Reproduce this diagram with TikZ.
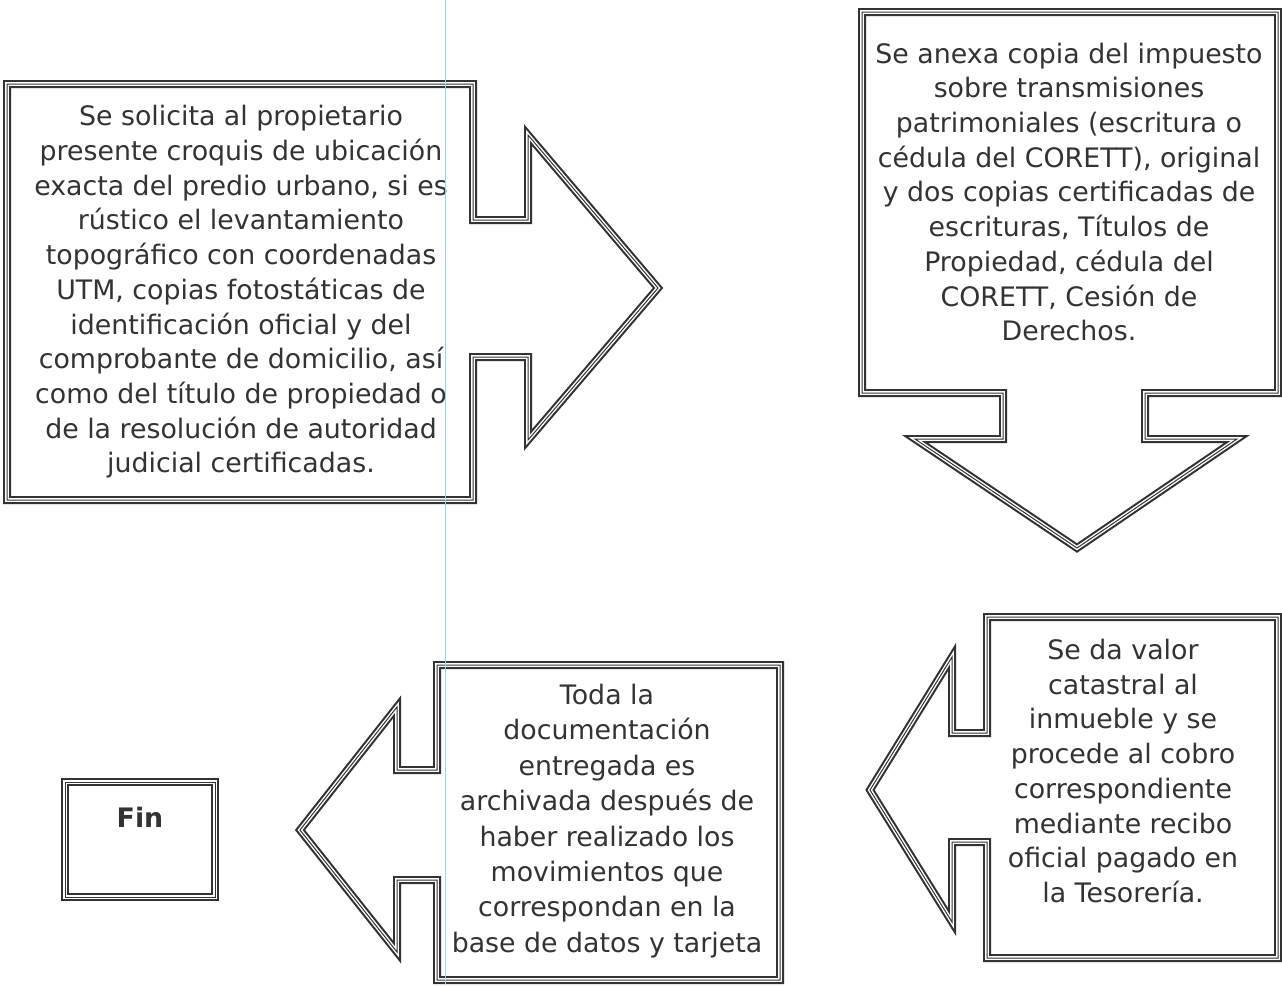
\documentclass[tikz,border=0pt]{standalone}
\usepackage{fontspec}
\setmainfont{DejaVu Sans}
\definecolor{ink}{HTML}{333333}
\definecolor{guide}{RGB}{150,215,228}
\newcommand\tripath[1]{%
  \draw[frameA] #1;
  \draw[frameB] #1;
  \draw[frameC] #1;}
\begin{document}
\begin{tikzpicture}[x=1pt,y=-1pt,
  frameA/.style={draw=ink, line width=8pt, line join=miter},
  frameB/.style={draw=white, line width=3.8pt, line join=miter},
  frameC/.style={draw=ink, line width=1pt, line join=miter},
  txt/.style={text=ink, align=center, inner sep=0pt,
    font=\fontsize{26.8}{34.7}\selectfont}]
\useasboundingbox[fill=white] (0,0) rectangle (1282,985);

% shape 1: right arrow callout
\tripath{(7,84) -- (473,84) -- (473,220) -- (528,220) -- (528,135) -- (658,288) -- (528,440) -- (528,357) -- (473,357) -- (473,500) -- (7,500) -- cycle}
% shape 2: down arrow callout
\tripath{(862,12) -- (1278,12) -- (1278,393) -- (1145,393) -- (1145,439) -- (1237,439) -- (1077,548) -- (915,439) -- (1003,439) -- (1003,393) -- (862,393) -- cycle}
% shape 3: left arrow callout
\tripath{(437,665) -- (780,665) -- (780,980) -- (437,980) -- (437,880) -- (397,880) -- (397,952) -- (300,830) -- (397,707) -- (397,770) -- (437,770) -- cycle}
% shape 4: left arrow callout
\tripath{(987,617) -- (1278,617) -- (1278,958) -- (987,958) -- (987,842) -- (952,842) -- (952,922) -- (870,790) -- (952,657) -- (952,733) -- (987,733) -- cycle}
% Fin box
\tripath{(65,782) rectangle (215,897)}

\node[txt] (t1) at (241,292) {Se solicita al propietario\\presente croquis de ubicación\\exacta del predio urbano, si es\\rústico el levantamiento\\topográfico con coordenadas\\UTM, copias fotostáticas de\\identificación oficial y del\\comprobante de domicilio, así\\como del título de propiedad o\\de la resolución de autoridad\\judicial certificadas.};
\node[txt] (t2) at (1069,192) {Se anexa copia del impuesto\\sobre transmisiones\\patrimoniales (escritura o\\cédula del CORETT), original\\y dos copias certificadas de\\escrituras, Títulos de\\Propiedad, cédula del\\CORETT, Cesión de\\Derechos.};
\node[txt, font=\fontsize{26.8}{35.4}\selectfont] (t3) at (607,821) {Toda la\\documentación\\entregada es\\archivada después de\\haber realizado los\\movimientos que\\correspondan en la\\base de datos y tarjeta};
\node[txt] (t4) at (1123,771) {Se da valor\\catastral al\\inmueble y se\\procede al cobro\\correspondiente\\mediante recibo\\oficial pagado en\\la Tesorería.};
\node[txt, font=\fontsize{26.8}{30}\selectfont\bfseries] (fin) at (140,817) {Fin};

\draw[guide, line width=1pt] (445,0) -- (445,985);
\end{tikzpicture}
\end{document}
